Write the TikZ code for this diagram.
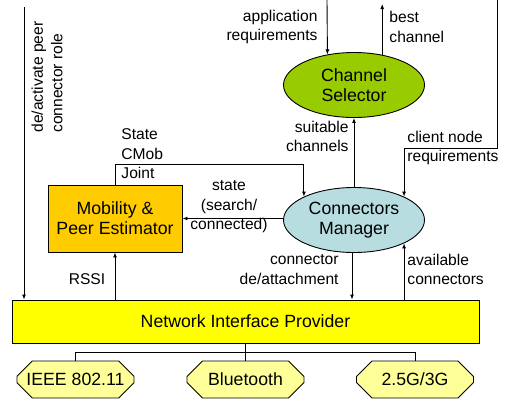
\documentclass[tikz,border=0pt]{standalone}
\usepackage{fontspec}
\setmainfont{Liberation Sans}
\usetikzlibrary{arrows.meta,shapes.geometric,shapes.misc}
\definecolor{mobfill}{HTML}{FFCC00}
\definecolor{csfill}{HTML}{99CC00}
\definecolor{cmfill}{HTML}{B7DDE1}
\definecolor{nipfill}{HTML}{FFFF00}
\definecolor{octfill}{HTML}{FFFF99}
\tikzset{
  every path/.style={line width=0.9pt},
  arr/.style={-{Latex[length=5pt,width=4pt]}},
  main/.style={font=\fontsize{17.7}{20}\selectfont, align=center, inner sep=0pt, draw=black, line width=0.9pt},
  lab/.style={font=\fontsize{15.6}{19.5}\selectfont, inner sep=0pt},
  oval/.style={main, ellipse, minimum width=141pt, minimum height=65pt},
  oct/.style={main, chamfered rectangle, chamfered rectangle xsep=9pt, chamfered rectangle ysep=9pt, minimum width=117pt, minimum height=37pt, fill=octfill},
}
\begin{document}
\begin{tikzpicture}[x=1pt,y=-1pt]
\useasboundingbox (0,0) rectangle (506,400);
% nodes
\node[oval, fill=csfill] (cs) at (354,85) {Channel\\Selector};
\node[oval, fill=cmfill] (cm) at (354,220) {Connectors\\Manager};
\node[main, rectangle, fill=mobfill, minimum width=134pt, minimum height=67pt] (mob) at (115,218.5) {Mobility \&\\Peer Estimator};
\node[main, rectangle, fill=nipfill, minimum width=467pt, minimum height=43pt] (nip) at (245.5,321.5) {Network Interface Provider};
\node[oct] (ieee) at (75.5,379.5) {IEEE 802.11};
\node[oct] (bt) at (245.5,379.5) {Bluetooth};
\node[oct] (g3) at (415,379.5) {2.5G/3G};
% free ends
\coordinate (tl) at (24,7);
\coordinate (apptop) at (327,0);
\coordinate (besttop) at (382,4);
\coordinate (cntop) at (497,0);
\coordinate (cnbend) at (497,148);
\coordinate (sjbend) at (115,164);
\coordinate (bus) at (245.5,352);
% labels
\node[lab, align=right, anchor=east] (lapp) at (318,27) {application\\requirements};
\node[lab, align=left, anchor=west] (lbest) at (389,27) {best\\channel};
\node[lab, align=right, anchor=east] (lsuit) at (349,136.5) {suitable\\channels};
\node[lab, align=left, anchor=west] (lclient) at (407,148) {client node\\requirements};
\node[lab, align=left, anchor=west] (lstate) at (121,154) {State\\CMob\\Joint};
\node[lab, align=center] (lsearch) at (229,207) {state\\(search/\\connected)};
\node[lab, align=right, anchor=east] (lconn) at (339,269.5) {connector\\de/attachment};
\node[lab, align=left, anchor=west] (lavail) at (407,269.5) {available\\connectors};
\node[lab] (lrssi) at (87,279) {RSSI};
\node[lab, align=left, rotate=90, anchor=north west] (lpeer) at (31,133) {de/activate peer\\connector role};
% connectors
\draw[arr] (tl) -- (tl |- nip.north);
\draw[arr] (apptop) -- (cs.131.5);
\draw[arr] (cs.47) -- (cs.47 |- besttop);
\draw[arr] (cm.north) -- (cs.south);
\draw[arr] (cntop) -- (cnbend) -| (cm.25);
\draw[arr] (mob.north) -- (sjbend) -| (cm.155);
\draw[arr] (cm.west |- mob.east) -- (mob.east);
\draw[arr] (mob.south |- nip.north) -- (mob.south);
\draw[arr] (cm.south -| 352,0) -- (352,0 |- nip.north);
\draw[arr] (cm.-25 |- nip.north) -- (cm.-25);
\draw (nip.south) -- (bt.north);
\draw (ieee.north) -- (ieee.north |- bus) -- (g3.north |- bus) -- (g3.north);
\end{tikzpicture}
\end{document}
